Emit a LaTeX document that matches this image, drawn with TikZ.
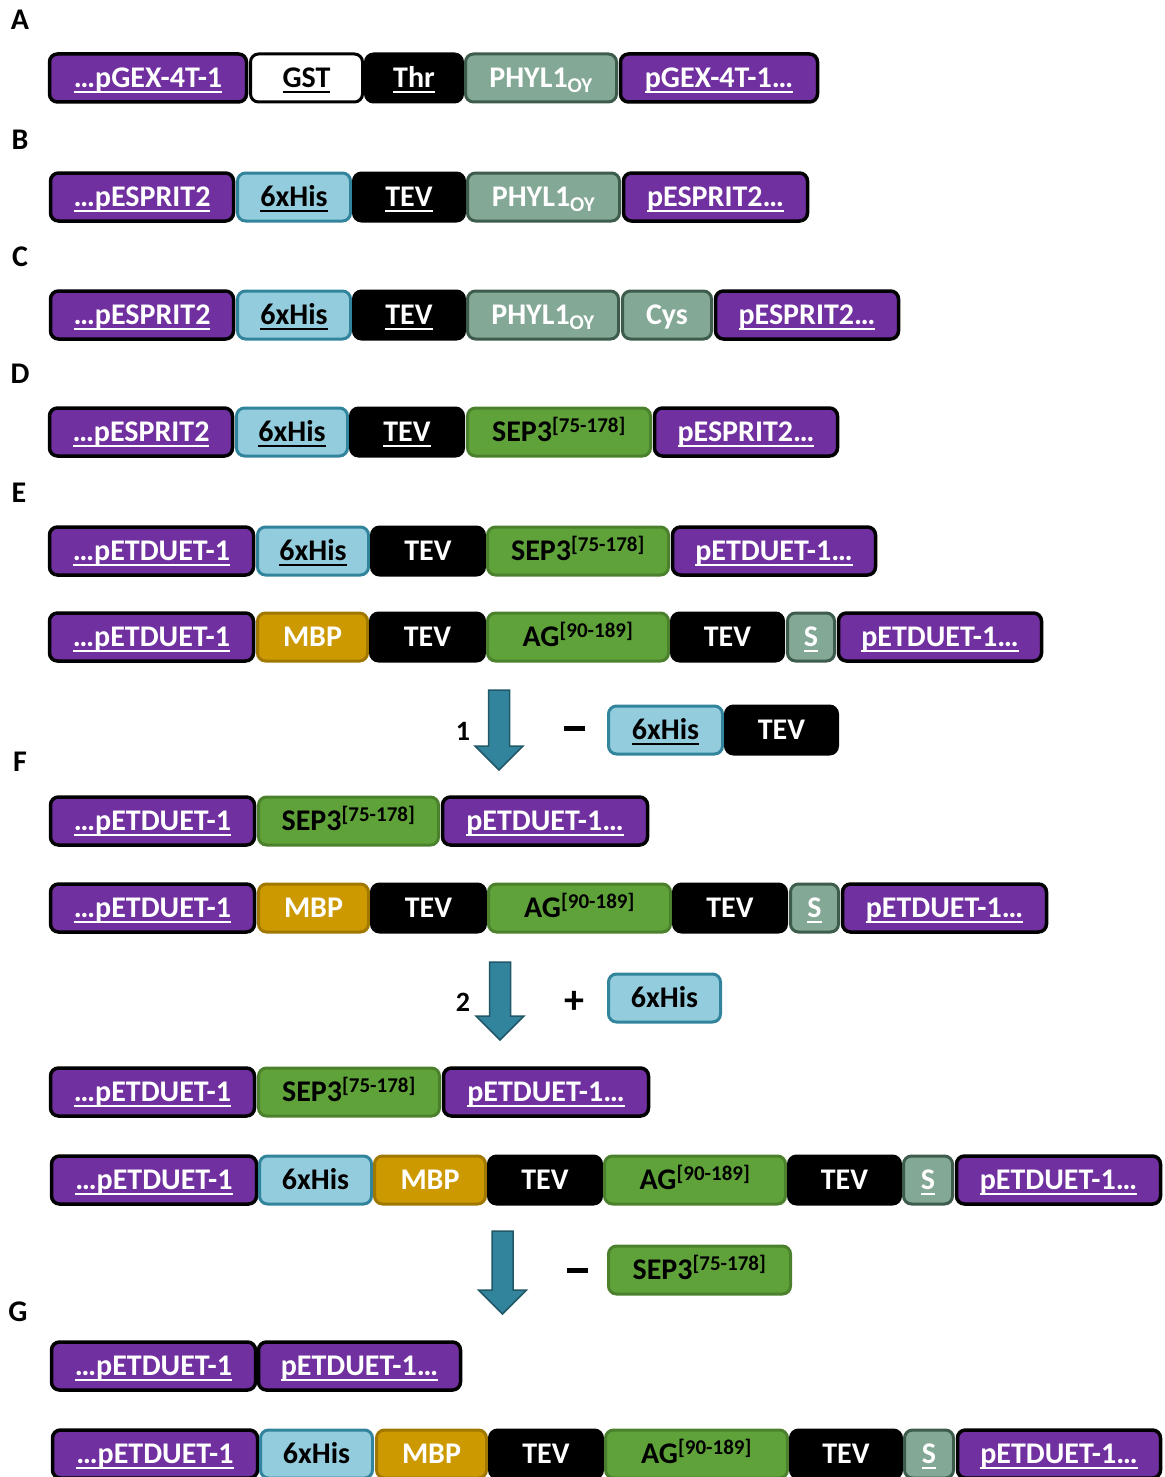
\documentclass[tikz,border=0pt]{standalone}
\usepackage{fontspec}
\setmainfont{Carlito}
\definecolor{purp}{HTML}{7030A0}
\definecolor{hisfill}{HTML}{93CDDD}
\definecolor{hisdraw}{HTML}{31849B}
\definecolor{phylfill}{HTML}{84A896}
\definecolor{phyldraw}{HTML}{3D5C4C}
\definecolor{grnfill}{HTML}{60A23A}
\definecolor{grndraw}{HTML}{4B812C}
\definecolor{mbpfill}{HTML}{CC9900}
\definecolor{mbpdraw}{HTML}{A07800}
\definecolor{arrfill}{HTML}{31849B}
\definecolor{arrdraw}{HTML}{215868}
\newcommand\ulx[1]{\setbox0=\hbox{#1}\rlap{\vrule height -3.5pt depth 5.5pt width \wd0}\box0}
\newcommand\mkseg[6]{\node[#2, minimum width={#4-#3-3}] (#1) at ({(#3+#4)/2},#5) {#6};}
\tikzset{
  seg/.style={rounded corners=8pt, minimum height=48, inner sep=0pt, text height=19pt, text depth=0pt,
    font=\fontsize{30}{32}\selectfont\bfseries, line width=3pt},
  plas/.style={seg, fill=purp, draw=black, line width=3.5pt, text=white},
  his/.style={seg, fill=hisfill, draw=hisdraw, text=black},
  blk/.style={seg, fill=black, draw=black, text=white},
  phyl/.style={seg, fill=phylfill, draw=phyldraw, text=white},
  grn/.style={seg, fill=grnfill, draw=grndraw, text=black},
  mbp/.style={seg, fill=mbpfill, draw=mbpdraw, text=white},
  gst/.style={seg, fill=white, draw=black, text=black},
  lbl/.style={font=\fontsize{30}{32}\selectfont\bfseries, inner sep=0pt},
  sym/.style={font=\fontsize{28}{30}\selectfont\bfseries, inner sep=0pt},
  bigsym/.style={font=\fontsize{40}{42}\selectfont\bfseries, inner sep=0pt},
  bigarrow/.style={fill=arrfill, draw=arrdraw, line width=1.5pt, line join=miter}
}
\newcommand\phyl{PHYL1\textsubscript{OY}}
\newcommand\sep{SEP3\textsuperscript{[75-178]}}
\newcommand\ag{AG\textsuperscript{[90-189]}}
\newcommand\downarr[3]{\draw[bigarrow] ({#1-10.5},#2) -- ({#1+10.5},#2) -- ({#1+10.5},{#3-24}) -- ({#1+24},{#3-24}) -- (#1,#3) -- ({#1-24},{#3-24}) -- ({#1-10.5},{#3-24}) -- cycle;}
\begin{document}
\begin{tikzpicture}[x=1pt,y=-1pt]
\useasboundingbox (0,0) rectangle (1164,1477);
% labels
\node[lbl] (lA) at (20,20) {A};
\node[lbl] (lB) at (20,140) {B};
\node[lbl] (lC) at (20,257) {C};
\node[lbl] (lD) at (20,374) {D};
\node[lbl] (lE) at (19,493) {E};
\node[lbl] (lF) at (20,762) {F};
\node[lbl] (lG) at (18,1312) {G};
% A
\mkseg{a1}{plas}{48}{248}{78}{\ulx{…pGEX-4T-1}}
\mkseg{a2}{gst}{249}{364}{78}{\ulx{GST}}
\mkseg{a3}{blk}{364}{464}{78}{\ulx{Thr}}
\mkseg{a4}{phyl}{464}{618}{78}{\phyl}
\mkseg{a5}{plas}{619}{819}{78}{\ulx{pGEX-4T-1…}}
% B
\mkseg{b1}{plas}{49}{235}{197}{\ulx{…pESPRIT2}}
\mkseg{b2}{his}{236}{352}{197}{\ulx{6xHis}}
\mkseg{b3}{blk}{352}{466}{197}{\ulx{TEV}}
\mkseg{b4}{phyl}{466}{621}{197}{\phyl}
\mkseg{b5}{plas}{622}{809}{197}{\ulx{pESPRIT2…}}
% C
\mkseg{c1}{plas}{49}{235}{315}{\ulx{…pESPRIT2}}
\mkseg{c2}{his}{236}{352}{315}{\ulx{6xHis}}
\mkseg{c3}{blk}{352}{466}{315}{\ulx{TEV}}
\mkseg{c4}{phyl}{466}{620}{315}{\phyl}
\mkseg{c5}{phyl}{621}{713}{315}{Cys}
\mkseg{c6}{plas}{714}{900}{315}{\ulx{pESPRIT2…}}
% D
\mkseg{d1}{plas}{48}{234}{432}{\ulx{…pESPRIT2}}
\mkseg{d2}{his}{235}{349}{432}{\ulx{6xHis}}
\mkseg{d3}{blk}{349}{465}{432}{\ulx{TEV}}
\mkseg{d4}{grn}{466}{652}{432}{\sep}
\mkseg{d5}{plas}{653}{839}{432}{\ulx{pESPRIT2…}}
% E1
\mkseg{e1}{plas}{48}{255}{551}{\ulx{…pETDUET-1}}
\mkseg{e2}{his}{256}{370}{551}{\ulx{6xHis}}
\mkseg{e3}{blk}{370}{486}{551}{TEV}
\mkseg{e4}{grn}{486}{670}{551}{\sep}
\mkseg{e5}{plas}{671}{877}{551}{\ulx{pETDUET-1…}}
% E2
\mkseg{f1}{plas}{48}{255}{637}{\ulx{…pETDUET-1}}
\mkseg{f2}{mbp}{256}{369}{637}{MBP}
\mkseg{f3}{blk}{369}{486}{637}{TEV}
\mkseg{f4}{grn}{486}{670}{637}{\ag}
\mkseg{f5}{blk}{670}{785}{637}{TEV}
\mkseg{f6}{phyl}{786}{836}{637}{\ulx{S}}
\mkseg{f7}{plas}{837}{1043}{637}{\ulx{pETDUET-1…}}
% arrow 1
\downarr{499}{690}{770}
\node[sym] (n1) at (463,731) {1};
\node[inner sep=0pt] (m1) at (574.5,728.5) {\rule{21pt}{5pt}};
\mkseg{r1}{his}{607}{724}{730}{\ulx{6xHis}}
\mkseg{r2}{blk}{724}{839}{730}{TEV}
% F1
\mkseg{g1}{plas}{49}{256}{821}{\ulx{…pETDUET-1}}
\mkseg{g2}{grn}{257}{440}{821}{\sep}
\mkseg{g3}{plas}{441}{649}{821}{\ulx{pETDUET-1…}}
% F2
\mkseg{h1}{plas}{49}{256}{908}{\ulx{…pETDUET-1}}
\mkseg{h2}{mbp}{257}{370}{908}{MBP}
\mkseg{h3}{blk}{370}{487}{908}{TEV}
\mkseg{h4}{grn}{487}{672}{908}{\ag}
\mkseg{h5}{blk}{672}{788}{908}{TEV}
\mkseg{h6}{phyl}{789}{840}{908}{\ulx{S}}
\mkseg{h7}{plas}{841}{1048}{908}{\ulx{pETDUET-1…}}
% arrow 2
\downarr{500}{962}{1040}
\node[sym] (n2) at (463,1002) {2};
\node[bigsym] (p2) at (574,1002) {+};
\mkseg{s1}{his}{607}{722}{998}{6xHis}
% H1
\mkseg{i1}{plas}{49}{256}{1092}{\ulx{…pETDUET-1}}
\mkseg{i2}{grn}{257}{441}{1092}{\sep}
\mkseg{i3}{plas}{442}{650}{1092}{\ulx{pETDUET-1…}}
% H2
\mkseg{j1}{plas}{50}{258}{1180}{\ulx{…pETDUET-1}}
\mkseg{j2}{his}{258}{373}{1180}{6xHis}
\mkseg{j3}{mbp}{373}{487}{1180}{MBP}
\mkseg{j4}{blk}{487}{603}{1180}{TEV}
\mkseg{j5}{grn}{603}{787}{1180}{\ag}
\mkseg{j6}{blk}{787}{902}{1180}{TEV}
\mkseg{j7}{phyl}{902}{954}{1180}{\ulx{S}}
\mkseg{j8}{plas}{955}{1162}{1180}{\ulx{pETDUET-1…}}
% arrow 3
\downarr{502.5}{1231}{1314}
\node[inner sep=0pt] (m3) at (577,1270.5) {\rule{21pt}{5pt}};
\mkseg{t1}{grn}{607}{792}{1270}{\sep}
% G1
\mkseg{k1}{plas}{50}{257}{1366}{\ulx{…pETDUET-1}}
\mkseg{k2}{plas}{257}{462}{1366}{\ulx{pETDUET-1…}}
% G2
\mkseg{l1}{plas}{51}{259}{1454}{\ulx{…pETDUET-1}}
\mkseg{l2}{his}{259}{374}{1454}{6xHis}
\mkseg{l3}{mbp}{375}{488}{1454}{MBP}
\mkseg{l4}{blk}{488}{604}{1454}{TEV}
\mkseg{l5}{grn}{604}{789}{1454}{\ag}
\mkseg{l6}{blk}{789}{903}{1454}{TEV}
\mkseg{l7}{phyl}{903}{955}{1454}{\ulx{S}}
\mkseg{l8}{plas}{956}{1162}{1454}{\ulx{pETDUET-1…}}
\end{tikzpicture}
\end{document}
